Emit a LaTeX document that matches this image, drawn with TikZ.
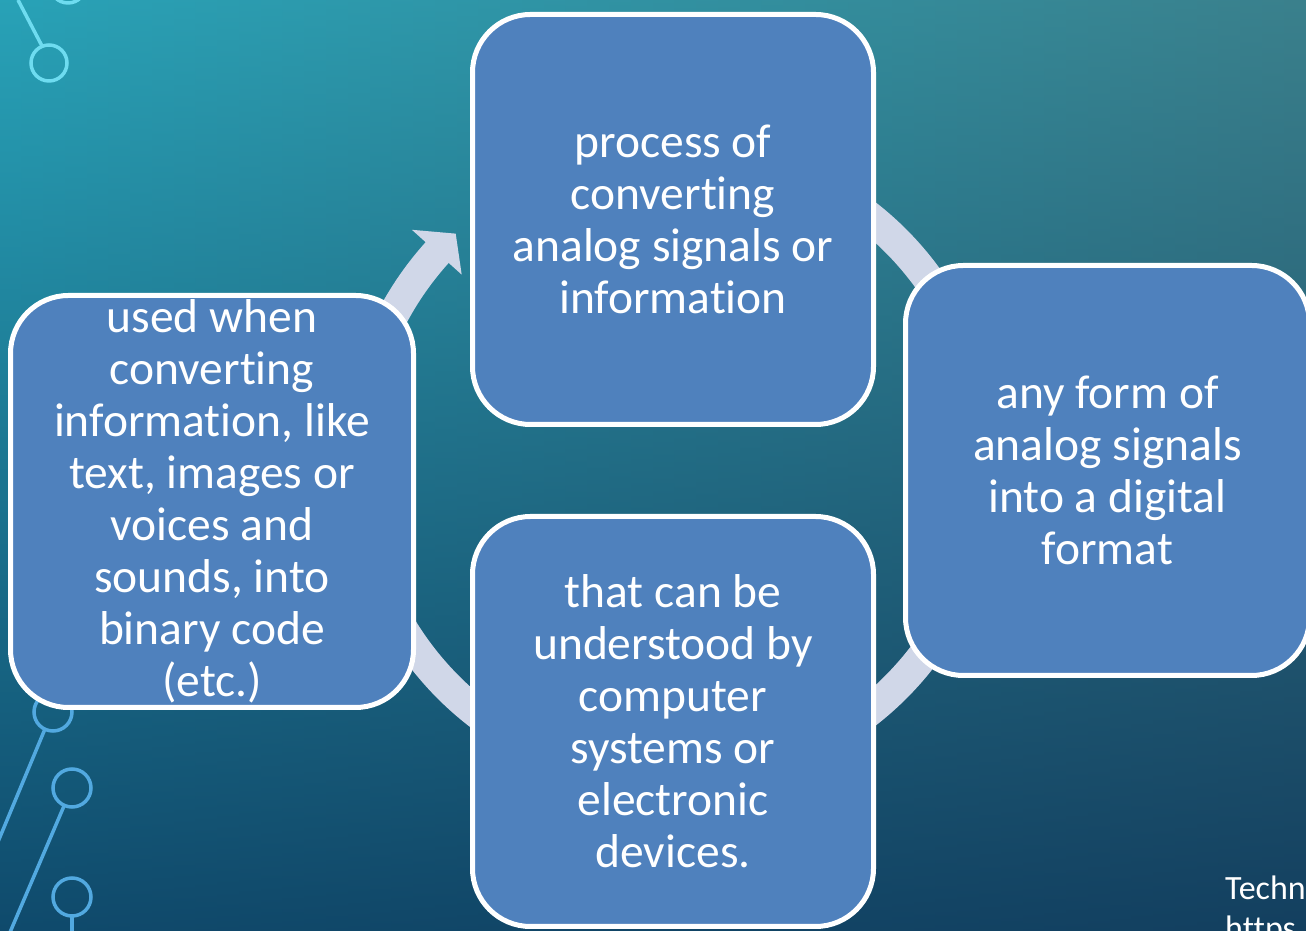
\documentclass[tikz,border=0pt]{standalone}
\usepackage{fontspec}
\setmainfont{Carlito}[RawFeature={-liga}]
\definecolor{boxblue}{HTML}{4F81BD}
\definecolor{ringc}{HTML}{D0D7E8}
\definecolor{bgtl}{HTML}{28A2B7}
\definecolor{bgml}{HTML}{1F8CA3}
\definecolor{bgbl}{HTML}{0F4A6C}
\definecolor{bgtr}{HTML}{3A808C}
\definecolor{bgmr}{HTML}{2A6A80}
\definecolor{bgbr}{HTML}{133F5F}
\definecolor{circA}{HTML}{6EDCF0}
\definecolor{circB}{HTML}{52A9E0}
\begin{document}
\begin{tikzpicture}[x=1pt,y=1pt,
  box/.style={draw=white, line width=5pt, fill=boxblue, rounded corners=58pt,
    minimum width=401pt, minimum height=410pt, text=white, align=center,
    font=\fontsize{47.5}{52}\selectfont, inner sep=0pt},
  circuitA/.style={draw=circA, line width=3.5pt},
  circuitB/.style={draw=circB, line width=3.5pt},
  credit/.style={anchor=base west, inner sep=0pt, text=white, font=\fontsize{34}{40}\selectfont}]
\useasboundingbox (0,0) rectangle (1306,931);
\begin{scope}
\clip (0,0) rectangle (1306,931);
% background
\foreach \i in {0,...,59} {
  \pgfmathsetmacro\p{100*(\i+0.5)/60}
  \pgfmathsetmacro\xa{\i*21.7667}
  \pgfmathsetmacro\xb{\i*21.7667+22.6}
  \colorlet{ct}{bgtr!\p!bgtl}
  \colorlet{cm}{bgmr!\p!bgml}
  \colorlet{cb}{bgbr!\p!bgbl}
  \shade[top color=ct, middle color=cm, bottom color=cb] (\xa,0) rectangle (\xb,931);
}
% circuit decorations
\draw[circuitA] (18,931) -- (42,885);
\draw[circuitA] (49,868) circle[radius=18];
\draw[circuitA] (68,946) circle[radius=18];
\draw[circuitB] (53,219) circle[radius=19];
\draw[circuitB] (45,202) -- (-5,82);
\draw[circuitB] (72,143) circle[radius=19];
\draw[circuitB] (64,125) -- (8,-6);
\draw[circuitB] (72,34) circle[radius=19];
\draw[circuitB] (72,15) -- (72,-5);
% ring arrow
\fill[ringc, shift={(672,467)}] (120:331.5) arc[start angle=120, end angle=-222, radius=331.5]
  -- (-222:350) -- (-226.8:316) -- (-222:283) -- (-222:300.5)
  arc[start angle=-222, end angle=120, radius=300.5] -- cycle;
% boxes
\node[box] (top) at (673,711.5) {process of\\converting\\analog signals or\\information};
\node[box, minimum width=404pt] (right) at (1107.5,460.5) {any form of\\analog signals\\into a digital\\format};
\node[box] (bottom) at (673,209.5) {that can be\\understood by\\computer\\systems or\\electronic\\devices.};
\node[box, minimum width=403pt, minimum height=412pt] (left) at (212,429.5) {used when\\converting\\information, like\\text, images or\\voices and\\sounds, into\\binary code\\(etc.)};
% credit
\node[credit] (credit1) at (1225,31) {Techn};
\node[credit] (credit2) at (1225,-9) {https};
\end{scope}
\end{tikzpicture}
\end{document}
